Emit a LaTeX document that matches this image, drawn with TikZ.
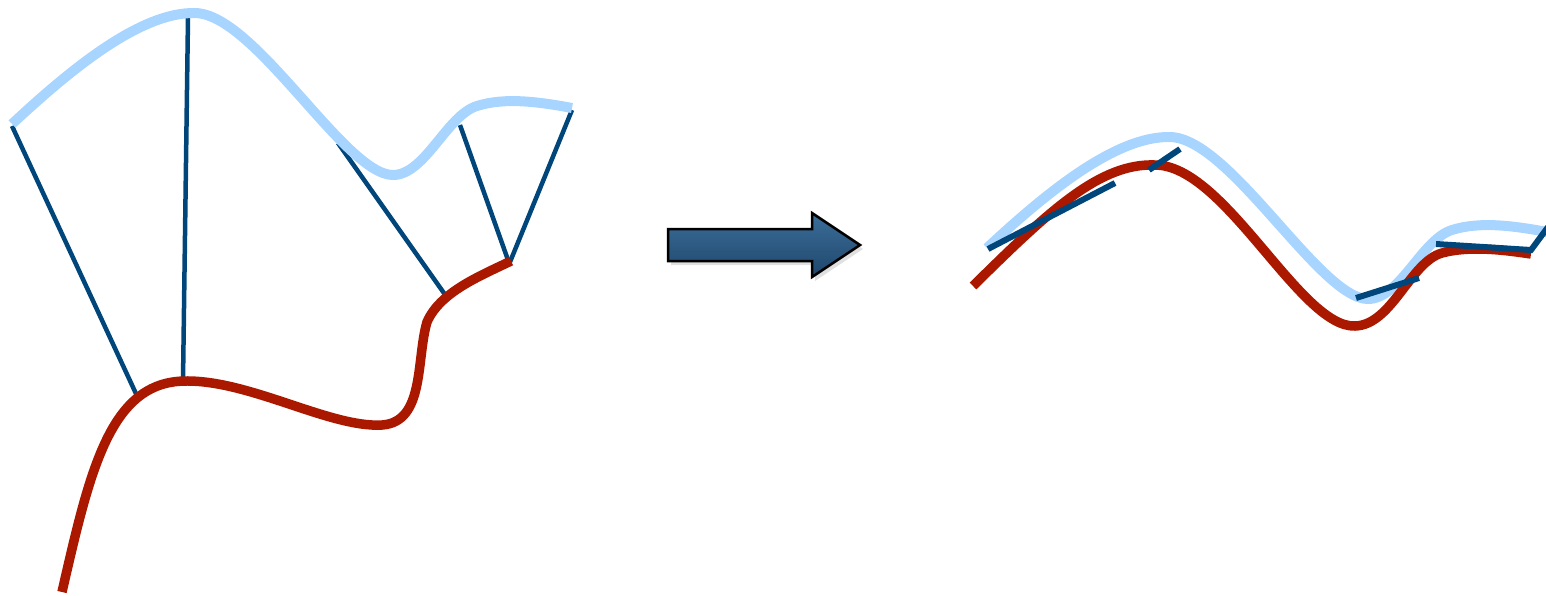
\documentclass[tikz,border=0pt]{standalone}
\usetikzlibrary{shadows}
\definecolor{lblue}{HTML}{A8D5FF}
\definecolor{dred}{HTML}{AA1800}
\definecolor{dblue}{HTML}{00467A}
\definecolor{arrtop}{HTML}{3B6E9A}
\definecolor{arrbot}{HTML}{1F466B}
\tikzset{
  ghost/.style={draw=lblue,line width=10pt},
  redcurve/.style={draw=dred,line width=9.5pt},
  spoke/.style={draw=dblue,line width=4.5pt},
  segm/.style={draw=dblue,line width=6pt},
  bigarrow/.style={draw=black,line width=2.5pt,top color=arrtop,bottom color=arrbot,line join=miter}
}
\begin{document}
\begin{tikzpicture}[x=1pt,y=-1pt]
\useasboundingbox (0,0) rectangle (1546,595);
% left part: spokes
\coordinate (s1a) at (12,126);  \coordinate (s1b) at (138,398);
\coordinate (s2a) at (188,17);  \coordinate (s2b) at (183,381);
\coordinate (s3a) at (338,143); \coordinate (s3b) at (446,296);
\coordinate (s4a) at (460,125); \coordinate (s4b) at (508,260);
\coordinate (s5a) at (572,110); \coordinate (s5b) at (510,262);
\draw[spoke] (s1a) -- (s1b);
\draw[spoke] (s2a) -- (s2b);
\draw[spoke] (s3a) -- (s3b);
\draw[spoke] (s4a) -- (s4b);
\draw[spoke] (s5a) -- (s5b);
% left light blue curve
\draw[ghost] (12,124) .. controls (70,70) and (140,12) .. (195,13)
  .. controls (255,14) and (345,175) .. (393,175)
  .. controls (425,175) and (447,115) .. (477,106)
  .. controls (505,97) and (540,102) .. (572,108);
% left red curve
\draw[redcurve] (62,592) .. controls (90,470) and (110,382) .. (185,381)
  .. controls (250,380) and (330,428) .. (382,425)
  .. controls (425,422) and (416,360) .. (427,322)
  .. controls (440,292) and (480,276) .. (511,261);
% arrow
\path[fill=black!12] (671,233) -- (815,233) -- (815,217) -- (863,249) -- (815,281) -- (815,265) -- (671,265) -- cycle;
\path[bigarrow] (668,229) -- (812,229) -- (812,213) -- (860,245) -- (812,277) -- (812,261) -- (668,261) -- cycle;
% right part
\begin{scope}[shift={(975,124)}]
\draw[ghost] (12,124) .. controls (70,70) and (140,12) .. (195,13)
  .. controls (255,14) and (345,175) .. (393,175)
  .. controls (425,175) and (447,115) .. (477,106)
  .. controls (505,97) and (540,102) .. (572,108);
\end{scope}
\draw[redcurve] (973,286) .. controls (1050,210) and (1100,163) .. (1155,165)
  .. controls (1225,165) and (1300,328) .. (1355,326)
  .. controls (1392,325) and (1410,262) .. (1442,253)
  .. controls (1472,245) and (1510,251) .. (1531,254);
\coordinate (r1a) at (988,249);  \coordinate (r1b) at (1115,183);
\coordinate (r2a) at (1149,170); \coordinate (r2b) at (1180,149);
\coordinate (r3a) at (1356,298); \coordinate (r3b) at (1419,278);
\coordinate (r4a) at (1436,244); \coordinate (r4b) at (1531,250);
\coordinate (r4c) at (1548,227);
\draw[segm] (r1a) -- (r1b);
\draw[segm] (r2a) -- (r2b);
\draw[segm] (r3a) -- (r3b);
\draw[segm] (r4a) -- (r4b) -- (r4c);
\end{tikzpicture}
\end{document}
